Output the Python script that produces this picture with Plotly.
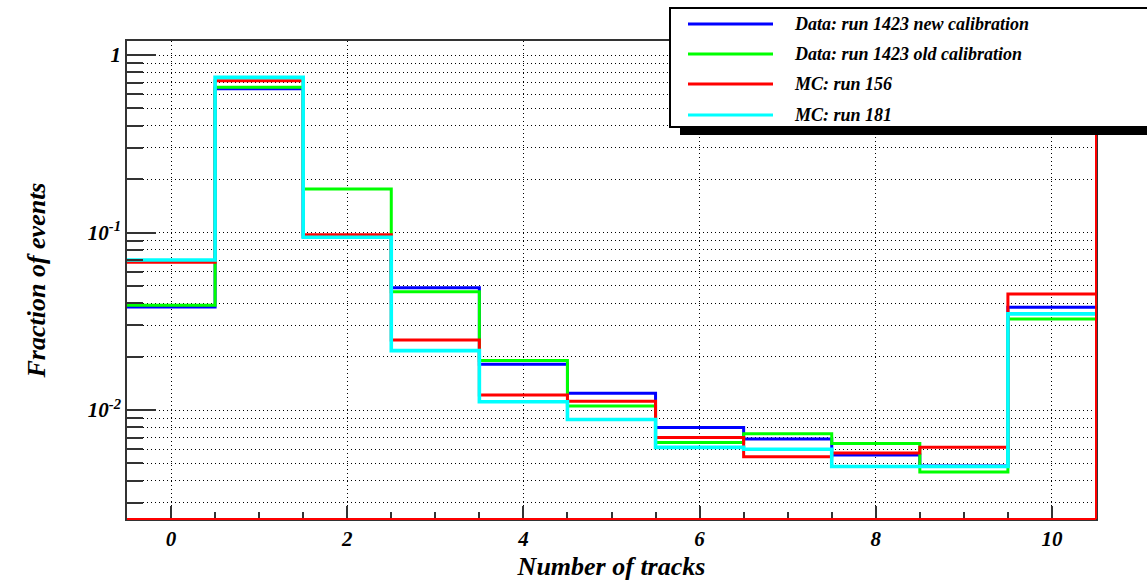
import plotly.graph_objects as go

# ---------------- data ----------------
n_tracks = list(range(11))
bin_edges = [n - 0.5 for n in n_tracks] + [10.5]

series_names = [
    "Data: run 1423 new calibration",
    "Data: run 1423 old calibration",
    "MC: run 156",
    "MC: run 181",
]
series_colors = ["#0000ff", "#00ff00", "#ff0000", "#00ffff"]

data_new_calib = [0.0380, 0.645, 0.095, 0.0489, 0.0181, 0.01242, 0.00798, 0.00687, 0.00558, 0.00484, 0.0379]
data_old_calib = [0.0389, 0.658, 0.176, 0.0464, 0.0190, 0.01054, 0.00657, 0.00735, 0.00647, 0.00448, 0.0326]
mc_run_156     = [0.0680, 0.716, 0.097, 0.0248, 0.01216, 0.01119, 0.00701, 0.00546, 0.00573, 0.00616, 0.0451]
mc_run_181     = [0.0700, 0.748, 0.094, 0.0216, 0.01114, 0.00885, 0.00616, 0.00601, 0.00481, 0.00481, 0.0348]
series_values = [data_new_calib, data_old_calib, mc_run_156, mc_run_181]

x_tick_vals = [0, 2, 4, 6, 8, 10]
x_tick_text = ["0", "2", "4", "6", "8", "10"]
y_tick_vals = [0.01, 0.1, 1]
y_tick_text = ["10<sup>-2</sup>", "10<sup>-1</sup>", "1"]

x_title = "Number of tracks"
y_title = "Fraction of events"

# ---------------- layout helpers ----------------
W, H = 1147, 581
L, R, T, B = 127, 51, 41, 62
PW, PH = W - L - R, H - T - B


def px(x):
    return (x - L) / PW


def py(y):
    return (H - B - y) / PH


FONT = "Liberation Serif"

fig = go.Figure()
widths = [3, 3, 3, 3.6]
for name, color, vals, w in zip(series_names, series_colors, series_values, widths):
    fig.add_trace(go.Scatter(
        x=bin_edges, y=vals + [vals[-1]], mode="lines", line_shape="hv",
        line=dict(color=color, width=w), name=name, showlegend=False,
        hoverinfo="skip"))

x_minor = [i * 0.5 for i in range(0, 21) if (i * 0.5) % 2 != 0]
y_minor = [m * 10 ** e for e in range(-3, 1) for m in range(2, 10)]

fig.update_xaxes(
    range=[-0.5, 10.5], tickmode="array", tickvals=x_tick_vals, ticktext=x_tick_text,
    ticks="inside", ticklen=13, tickwidth=2, tickcolor="#333",
    showline=True, linecolor="#333", linewidth=1.5, mirror=True,
    showgrid=True, gridcolor="black", gridwidth=1, griddash="1px,3px",
    zeroline=False,
    minor=dict(tickmode="array", tickvals=x_minor, ticks="inside", ticklen=7,
               tickwidth=1.5, tickcolor="#333", showgrid=False),
    tickfont=dict(family=FONT, size=21, color="black", weight="bold", style="italic"),
    title=dict(text=x_title, standoff=8,
               font=dict(family=FONT, size=26, color="black", weight="bold", style="italic")),
)
fig.update_yaxes(
    type="log", range=[-2.614, 0.079], tickmode="array", tickvals=y_tick_vals,
    ticktext=y_tick_text,
    ticks="inside", ticklen=29, tickwidth=2, tickcolor="#333",
    showline=True, linecolor="#333", linewidth=1.5, mirror=True,
    showgrid=True, gridcolor="black", gridwidth=1, griddash="1px,3px",
    zeroline=False,
    minor=dict(tickmode="array", tickvals=y_minor, ticks="inside", ticklen=16,
               tickwidth=2, tickcolor="#333", showgrid=True, gridcolor="black",
               gridwidth=1, griddash="1px,3px"),
    tickfont=dict(family=FONT, size=21, color="black", weight="bold", style="italic"),
    title=dict(text=y_title, standoff=35,
               font=dict(family=FONT, size=26, color="black", weight="bold", style="italic")),
)

shapes = []
# red right and bottom frame edges
shapes.append(dict(type="line", xref="paper", yref="paper", x0=1, x1=1, y0=0, y1=1,
                   line=dict(color="#ff0000", width=2)))
shapes.append(dict(type="line", xref="paper", yref="paper", x0=0, x1=1, y0=0, y1=0,
                   line=dict(color="#ff0000", width=2)))
# legend box with shadow
shapes.append(dict(type="rect", xref="paper", yref="paper",
                   x0=px(680), x1=px(1170), y0=py(135), y1=py(16),
                   fillcolor="black", line=dict(width=0)))
shapes.append(dict(type="rect", xref="paper", yref="paper",
                   x0=px(670), x1=px(1160), y0=py(127), y1=py(8),
                   fillcolor="white", line=dict(color="black", width=2)))
annotations = []
legend_y = [24, 54, 84, 115]
for name, color, yy in zip(series_names, series_colors, legend_y):
    shapes.append(dict(type="line", xref="paper", yref="paper",
                       x0=px(688), x1=px(773), y0=py(yy), y1=py(yy),
                       line=dict(color=color, width=3)))
    annotations.append(dict(xref="paper", yref="paper", x=px(792), y=py(yy),
                            xanchor="left", yanchor="middle", showarrow=False,
                            text=name,
                            font=dict(family=FONT, size=18, color="black",
                                      weight="bold", style="italic")))

fig.update_layout(
    width=W, height=H, margin=dict(l=L, r=R, t=T, b=B, autoexpand=False),
    paper_bgcolor="white", plot_bgcolor="white",
    shapes=shapes, annotations=annotations, showlegend=False,
)

fig.write_html("out.html")
